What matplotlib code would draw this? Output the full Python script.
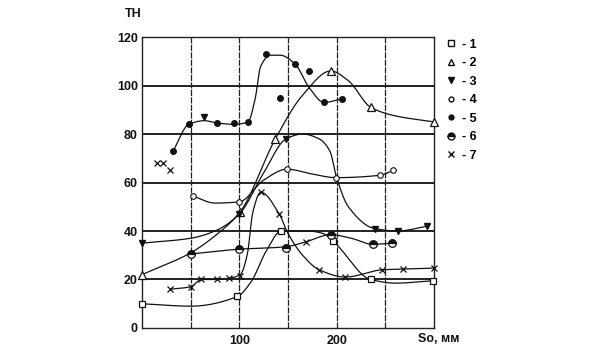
import matplotlib.pyplot as plt
import numpy as np
from matplotlib.lines import Line2D

# marker points (So, mm / TH)
s1_x = [0, 98, 143, 196, 235, 299]
s1_y = [10, 13, 40, 36, 20, 19.5]
s1_line_x = [0, 50, 98, 112, 128, 143, 170, 186, 196, 235, 260, 299]
s1_line_y = [10, 9, 13, 19, 32, 40, 40, 39, 36, 20, 18.5, 19.5]

s2_x = [0, 101, 137, 194, 235, 300]
s2_y = [22, 48, 78, 106, 91, 85]
s2_line_x = [0, 50, 75, 101, 137, 165, 194, 212, 235, 260, 300]
s2_line_y = [22, 31, 38, 48, 78, 96, 106, 102, 91, 87.5, 85]

s3_x = [0, 64, 100, 148, 239, 263, 293]
s3_y = [35, 87, 47, 78, 41, 40, 42]
s3_line_x = [0, 50, 75, 100, 125, 148, 165, 182, 193, 200, 212, 239, 263, 293]
s3_line_y = [35, 37, 40, 47, 64, 78, 80, 78, 73, 62, 50, 41, 40, 42]

s4_x = [52, 100, 149, 199, 245, 258]
s4_y = [54.5, 52, 65.5, 62, 63, 65]
s4_line_x = [52, 75, 100, 125, 149, 175, 199, 245, 258]
s4_line_y = [54.5, 51.5, 52, 61, 65.5, 63.5, 62, 63, 65]

s5_x = [32, 48, 77, 95, 109, 127, 142, 157, 172, 187, 205]
s5_y = [73, 84, 84.5, 84.5, 85, 113, 95, 109, 106, 93, 94.5]
s5_line_x = [32, 48, 64, 77, 95, 109, 116, 122, 132, 142, 157, 172, 187, 205]
s5_line_y = [73, 84, 85.5, 84.5, 84, 85, 94, 108, 112.5, 112.5, 109, 99, 93, 94.5]

s6_x = [50, 100, 148, 194, 237, 257]
s6_y = [30.5, 32.5, 33, 38.5, 34.5, 35]
s6_line_x = [50, 100, 148, 168, 194, 215, 237, 257]
s6_line_y = [30.5, 32.5, 33.5, 35.5, 38.5, 37, 34.5, 35]

s7_x = [15, 22, 29, 29, 50, 61, 77, 89, 101, 122, 141, 168, 182, 209, 247, 268, 300]
s7_y = [68, 68, 65, 16, 17, 20, 20, 20.5, 21.5, 56, 47, 35.5, 24, 21, 24, 24.3, 24.7]
s7_line_x = [29, 50, 61, 77, 89, 101, 108, 114, 122, 141, 150, 165, 182, 209, 247, 268, 300]
s7_line_y = [16, 17, 20, 20, 20.5, 22, 30, 48, 56, 47, 39, 30, 24, 21, 24, 24.3, 24.7]

y_ticks = [0, 20, 40, 60, 80, 100, 120]
x_grid = [50, 100, 150, 200, 250]
x_labels = ['', '100', '', '200', '']
legend_labels = ['- 1', '- 2', '- 3', '- 4', '- 5', '- 6', '- 7']


def pchip(x, y, n=300):
    # monotone cubic through the knots, just for smooth drawing
    x = np.asarray(x, float)
    y = np.asarray(y, float)
    h = np.diff(x)
    d = np.diff(y) / h
    m = np.zeros_like(y)
    for k in range(1, len(x) - 1):
        if d[k - 1] * d[k] > 0:
            w1 = 2 * h[k] + h[k - 1]
            w2 = h[k] + 2 * h[k - 1]
            m[k] = (w1 + w2) / (w1 / d[k - 1] + w2 / d[k])
    m[0] = d[0]
    m[-1] = d[-1]
    xs = np.linspace(x[0], x[-1], n)
    i = np.clip(np.searchsorted(x, xs) - 1, 0, len(h) - 1)
    t = (xs - x[i]) / h[i]
    ys = ((2 * t**3 - 3 * t**2 + 1) * y[i] + (t**3 - 2 * t**2 + t) * h[i] * m[i]
          + (-2 * t**3 + 3 * t**2) * y[i + 1] + (t**3 - t**2) * h[i] * m[i + 1])
    return xs, ys


plt.rcParams['font.family'] = ['Liberation Sans', 'DejaVu Sans']
plt.rcParams['font.weight'] = 'bold'

fig = plt.figure(figsize=(5.91, 3.6), dpi=100)
ax = fig.add_axes([0.2403, 0.0889, 0.494, 0.8083])

ax.set_xlim(0, 300)
ax.set_ylim(0, 120)

# grid
for gy in y_ticks[1:-1]:
    ax.axhline(gy, color='#111111', lw=1.3, zorder=1)
for gx in x_grid:
    ax.axvline(gx, color='#222222', lw=0.9, ls=(0, (5, 1)), zorder=1)

lines = [(s1_line_x, s1_line_y), (s2_line_x, s2_line_y), (s3_line_x, s3_line_y),
         (s4_line_x, s4_line_y), (s5_line_x, s5_line_y), (s6_line_x, s6_line_y),
         (s7_line_x, s7_line_y)]
for lx, ly in lines:
    xs, ys = pchip(lx, ly)
    ax.plot(xs, ys, color='#111111', lw=0.9, zorder=2)

mk = dict(ls='none', color='#111111', zorder=3, clip_on=False)
ax.plot(s1_x, s1_y, marker='s', ms=4.5, mfc='white', mew=0.9, **mk)
ax.plot(s2_x, s2_y, marker='^', ms=5.5, mfc='white', mew=0.9, **mk)
ax.plot(s3_x, s3_y, marker='v', ms=5, mfc='#111111', **mk)
ax.plot(s4_x, s4_y, marker='o', ms=4, mfc='white', mew=0.8, **mk)
ax.plot(s5_x, s5_y, marker='o', ms=4, mfc='#111111', **mk)
ax.plot(s6_x, s6_y, marker='o', ms=5.5, fillstyle='top', mfc='#111111',
        markerfacecoloralt='white', mew=0.9, **mk)
ax.plot(s7_x, s7_y, marker='x', ms=5, mew=0.9, **mk)

ax.set_yticks(y_ticks)
ax.set_xticks(x_grid)
ax.set_xticklabels(x_labels)
ax.tick_params(length=0, labelsize=9, colors='#111111')
ax.tick_params(axis='y', pad=3)
ax.tick_params(axis='x', pad=5)
for sp in ax.spines.values():
    sp.set_linewidth(1.0)
    sp.set_color('#222222')

ax.text(1.0 + 5 / 292, -0.017, 'So, мм', transform=ax.transAxes, ha='center',
        va='top', fontsize=9, color='#111111')
fig.text(133 / 591, 1 - 14 / 360, 'TH', ha='center', va='center',
         fontsize=9, color='#111111')

# legend
handles = [
    Line2D([], [], ls='none', marker='s', ms=4, mfc='white', color='#111111'),
    Line2D([], [], ls='none', marker='^', ms=4.5, mfc='white', color='#111111'),
    Line2D([], [], ls='none', marker='v', ms=4.5, color='#111111'),
    Line2D([], [], ls='none', marker='o', ms=3.5, mfc='white', color='#111111'),
    Line2D([], [], ls='none', marker='o', ms=3.5, color='#111111'),
    Line2D([], [], ls='none', marker='o', ms=5, fillstyle='top', color='#111111',
           markerfacecoloralt='white'),
    Line2D([], [], ls='none', marker='x', ms=4.5, color='#111111'),
]
ax.legend(handles, legend_labels, loc='upper left', bbox_to_anchor=(1.02, 1.012),
          frameon=False, fontsize=9, handlelength=1.0, handletextpad=0.4,
          labelspacing=0.52, borderaxespad=0)

fig.savefig('out.png', dpi=100)
